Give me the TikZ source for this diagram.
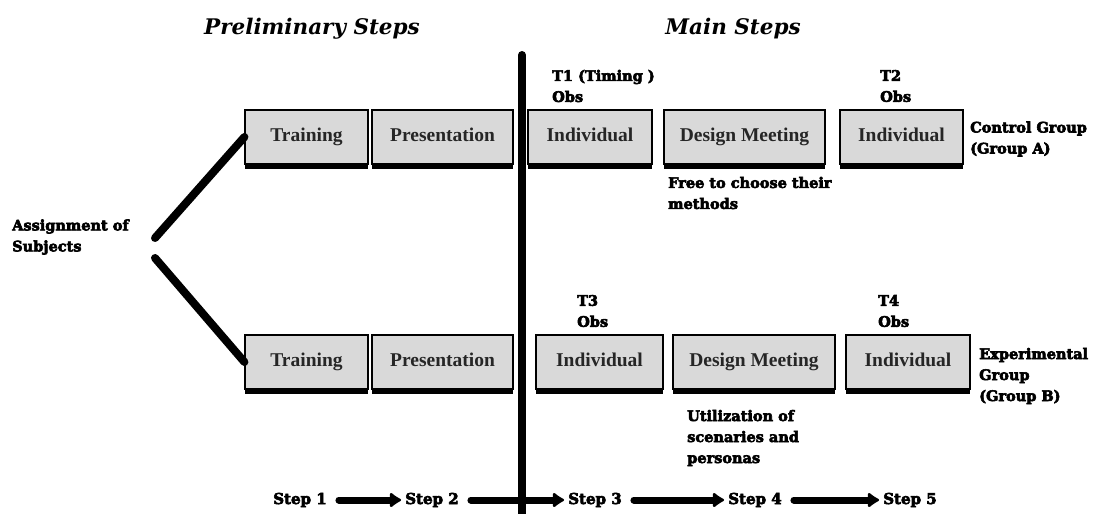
\documentclass[tikz,border=0pt]{standalone}
\usepackage{fontspec}
\setmainfont{Liberation Serif}
\newfontfamily\lblfont[BoldFeatures={FakeBold=4}]{DejaVu Serif}
\usetikzlibrary{arrows.meta,positioning,shadows}

\begin{document}
\begin{tikzpicture}
    [x=1pt,y=-1pt,
    activity/.style={rectangle,draw=black,line width=1.2pt,fill=black!15,
    inner sep=0pt,minimum height=54pt,text=black!85,text height=13pt,text depth=4pt,
    font=\bfseries\fontsize{19.5}{22}\selectfont,
    drop shadow={shadow xshift=0pt,shadow yshift=-5pt,opacity=1,fill=black}},
    note/.style={anchor=west,align=left,inner sep=0pt,
    font=\lblfont\bfseries\fontsize{14.5}{21}\selectfont},
    heading/.style={font=\lblfont\bfseries\itshape\fontsize{21.5}{24}\selectfont},
    steplabel/.style={inner sep=0pt,font=\lblfont\bfseries\fontsize{15}{18}\selectfont},
    flow/.style={line width=7pt,line cap=round,-{Latex[round,length=13pt,width=18pt]},
    shorten <=12pt,shorten >=4pt},
    branch/.style={line width=8pt,line cap=round}]
    \useasboundingbox (0,0) rectangle (1095,514);
    % headings
    \node (prelim) [heading] at (312,29) {Preliminary Steps};
    \node (main) [heading] at (733,29) {Main Steps};
    % control group
    \node (train a) [activity,minimum width=123pt] at (306.5,137) {Training};
    \node (pres a) [activity,minimum width=141pt] at (442.5,137) {Presentation};
    \node (indiv a1) [activity,minimum width=124pt] at (590,137) {Individual};
    \node (meet a) [activity,minimum width=161pt] at (744.5,137) {Design Meeting};
    \node (indiv a2) [activity,minimum width=123pt] at (901.5,137) {Individual};
    % experimental group
    \node (train b) [activity,minimum width=123pt] at (306.5,362) {Training};
    \node (pres b) [activity,minimum width=141pt] at (442.5,362) {Presentation};
    \node (indiv b1) [activity,minimum width=127pt] at (599.5,362) {Individual};
    \node (meet b) [activity,minimum width=162pt] at (754,362) {Design Meeting};
    \node (indiv b2) [activity,minimum width=124pt] at (908,362) {Individual};
    % notes
    \node (assign) [note] at (12,237) {Assignment of\\Subjects};
    \node (obs 1) [note] at (552,86) {T1 (Timing )\\Obs};
    \node (obs 2) [note] at (880,86) {T2\\Obs};
    \node (obs 3) [note] at (577,311) {T3\\Obs};
    \node (obs 4) [note] at (878,311) {T4\\Obs};
    \node (group a) [note] at (970,139) {Control Group\\(Group A)};
    \node (group b) [note] at (979,376) {Experimental\\Group\\(Group B)};
    \node (free) [note] at (668,193) {Free to choose their\\methods};
    \node (scen) [note] at (687,438) {Utilization of\\scenaries and\\personas};
    % branches
    \coordinate (fork a) at (155,238);
    \coordinate (fork b) at (155,258);
    \draw [branch] (fork a) -- (train a.west);
    \draw [branch] (fork b) -- (train b.west);
    % steps
    \node (step 1) [steplabel] at (300,500) {Step 1};
    \node (step 2) [steplabel] at (432,500) {Step 2};
    \node (step 3) [steplabel] at (595,500) {Step 3};
    \node (step 4) [steplabel] at (755,500) {Step 4};
    \node (step 5) [steplabel] at (910,500) {Step 5};
    \draw [flow] (step 1) -- (step 2);
    \draw [flow] (step 2) -- (step 3);
    \draw [flow] (step 3) -- (step 4);
    \draw [flow] (step 4) -- (step 5);
    % divider
    \coordinate (div top) at (522,55);
    \coordinate (div bot) at (522,514);
    \draw [line width=8pt,line cap=round] (div top) -- (div bot);
\end{tikzpicture}
\end{document}
